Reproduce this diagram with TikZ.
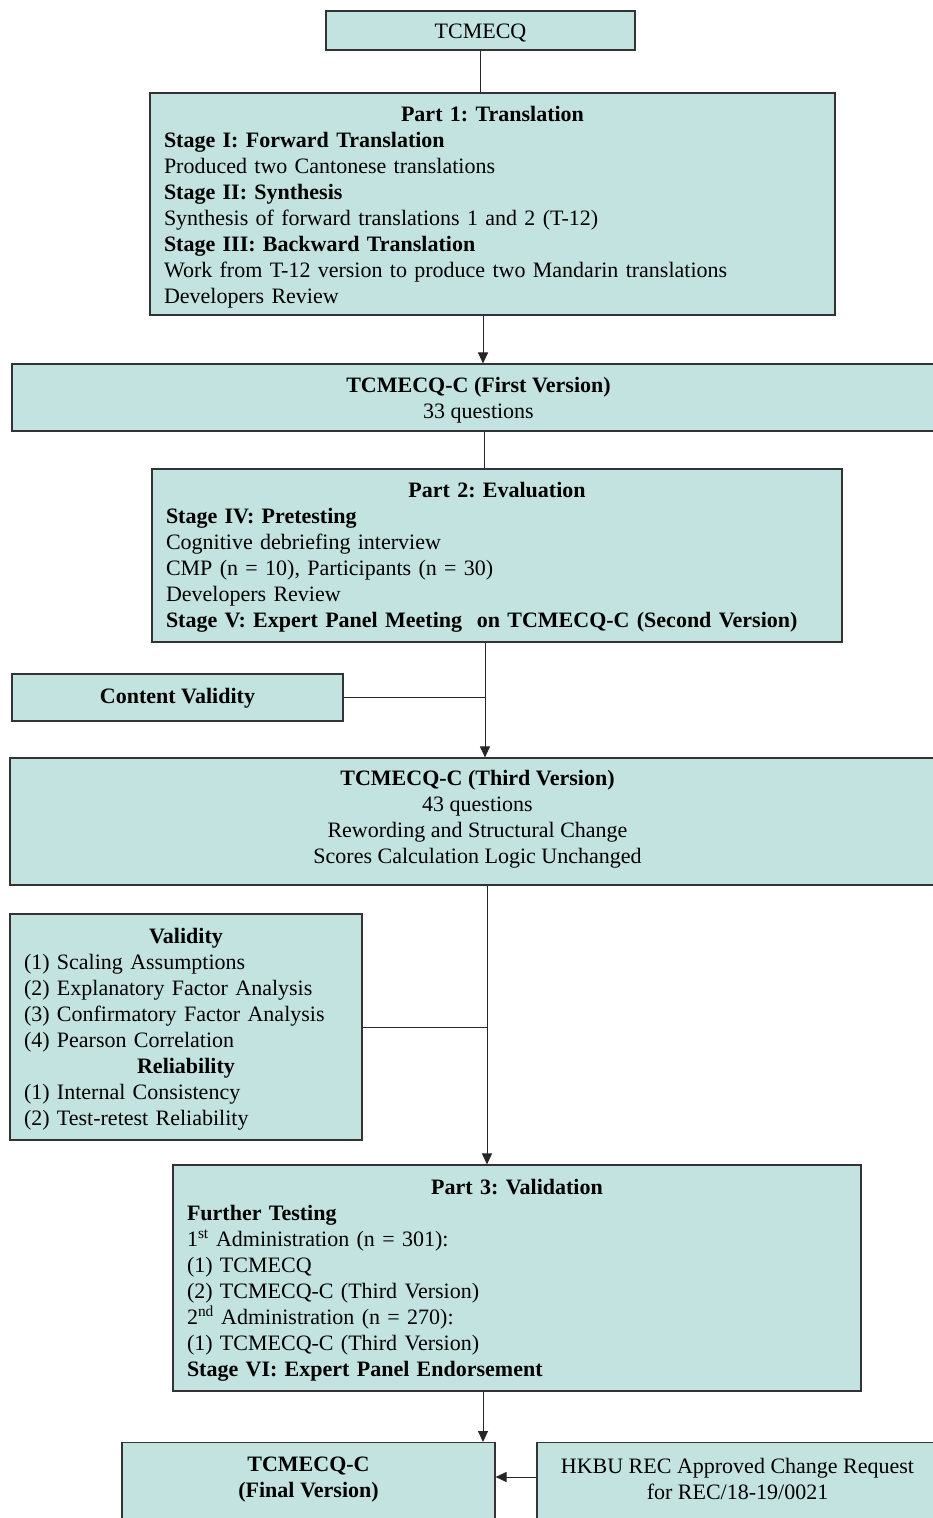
\documentclass[tikz,border=0pt]{standalone}
\usepackage{fontspec}
\setmainfont{Liberation Serif}
\usetikzlibrary{arrows.meta,calc}
\definecolor{boxfill}{RGB}{194,227,224}
\setlength{\parindent}{0pt}
\frenchspacing
\newcommand{\ctrline}[1]{\leavevmode\hbox to \hsize{\hss#1\hss}}
\begin{document}
\begin{tikzpicture}[x=1pt,y=-1pt,
  box/.style={draw=black!80, line width=1.1pt, fill=boxfill, inner sep=0pt},
  txt/.style={inner sep=0pt, align=center, font=\fontsize{22}{26}\selectfont},
  ltxt/.style={txt, align=left},
  conn/.style={draw=black!85, line width=1pt},
  arr/.style={conn, -{Triangle[length=11pt,width=10pt]}}]
\useasboundingbox (0,0) rectangle (933,1518);
% boxes
\node[box, minimum width=309, minimum height=39] (top) at (480.5,30.5) {};
\node[box, minimum width=685, minimum height=222] (p1) at (492.5,204) {};
\node[box, minimum width=933, minimum height=67] (v1) at (478.5,397.5) {};
\node[box, minimum width=690, minimum height=173] (p2) at (497,555.5) {};
\node[box, minimum width=331, minimum height=47] (cv) at (177.5,697.5) {};
\node[box, minimum width=935, minimum height=127] (v3) at (477.5,821.5) {};
\node[box, minimum width=352, minimum height=226] (val) at (186,1027) {};
\node[box, minimum width=688, minimum height=226] (p3) at (517,1278) {};
\node[box, minimum width=373, minimum height=100, anchor=north] (fin) at (308.5,1442) {};
\node[box, minimum width=408, minimum height=100, anchor=north] (hk) at (741,1442) {};
% texts
\node[txt] (topT) at (480.5,32.5) {TCMECQ};
\node[ltxt, text width=657] (p1T) at (492.5,207) {%
\ctrline{\textbf{Part 1: Translation}}\\
\textbf{Stage I: Forward Translation}\\
Produced two Cantonese translations\\
\textbf{Stage II: Synthesis}\\
Synthesis of forward translations 1 and 2 (T-12)\\
\textbf{Stage III: Backward Translation}\\
Work from T-12 version to produce two Mandarin translations\\
Developers Review};
\node[txt] (v1T) at (478.5,400) {\textbf{TCMECQ-C (First Version)}\\33 questions};
\node[ltxt, text width=662] (p2T) at (497,557.5) {%
\ctrline{\textbf{Part 2: Evaluation}}\\
\textbf{Stage IV: Pretesting}\\
Cognitive debriefing interview\\
CMP (n = 10), Participants (n = 30)\\
Developers Review\\
\textbf{Stage V: Expert Panel Meeting\ \ on TCMECQ-C (Second Version)}};
\node[txt] (cvT) at (177.5,698.5) {\textbf{Content Validity}};
\node[txt] (v3T) at (477.5,819) {%
\textbf{TCMECQ-C (Third Version)}\\
43 questions\\
Rewording and Structural Change\\
Scores Calculation Logic Unchanged};
\node[ltxt, text width=324] (valT) at (186,1029) {%
\ctrline{\textbf{Validity}}\\
(1) Scaling Assumptions\\
(2) Explanatory Factor Analysis\\
(3) Confirmatory Factor Analysis\\
(4) Pearson Correlation\\
\ctrline{\textbf{Reliability}}\\
(1) Internal Consistency\\
(2) Test-retest Reliability};
\node[ltxt, text width=660] (p3T) at (517,1280) {%
\ctrline{\textbf{Part 3: Validation}}\\
\textbf{Further Testing}\\
1\textsuperscript{st} Administration (n = 301):\\
(1) TCMECQ\\
(2) TCMECQ-C (Third Version)\\
2\textsuperscript{nd} Administration (n = 270):\\
(1) TCMECQ-C (Third Version)\\
\textbf{Stage VI: Expert Panel Endorsement}};
\node[txt] (finT) at (308.5,1480) {\textbf{TCMECQ-C}\\\textbf{(Final Version)}};
\node[txt] (hkT) at (737.5,1479) {HKBU REC Approved Change Request\\for REC/18-19/0021};
% connectors
\coordinate (x1) at (483,0);
\coordinate (x2) at (484,0);
\coordinate (x3) at (485,0);
\coordinate (x4) at (487,0);
\coordinate (x5) at (483,0);
\coordinate (yh) at (0,1477);
\draw[conn] (top.south) -- (top.south |- p1.north);
\draw[arr] (p1.south -| x1) -- (v1.north -| x1);
\draw[conn] (v1.south -| x2) -- (p2.north -| x2);
\draw[arr] (p2.south -| x3) -- (v3.north -| x3);
\draw[conn] (cv.east) -- (cv.east -| x3);
\draw[arr] (v3.south -| x4) -- (p3.north -| x4);
\draw[conn] (val.east) -- (val.east -| x4);
\draw[arr] (p3.south -| x5) -- (fin.north -| x5);
\draw[arr] (hk.west |- yh) -- (fin.east |- yh);
\end{tikzpicture}
\end{document}
